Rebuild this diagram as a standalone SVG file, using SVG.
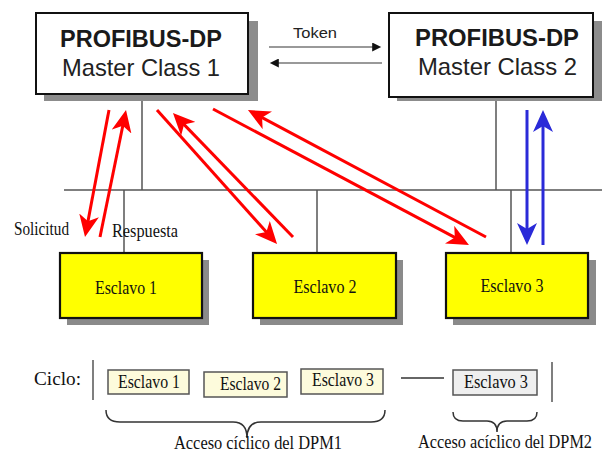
<svg xmlns="http://www.w3.org/2000/svg" width="603" height="456" viewBox="0 0 603 456">
<style>
.master{fill:#fff;stroke:#111;stroke-width:2}
.mshadow{fill:#8c8c8c}
.slave{fill:#ffff00;stroke:#111;stroke-width:2.2}
.sshadow{fill:#8a8a8a}
.bold{font-family:"Liberation Sans",Arial,sans-serif;font-weight:bold;font-size:24px;fill:#1a1a1a}
.reg{font-family:"Liberation Sans",Arial,sans-serif;font-size:24px;fill:#222}
.serif{font-family:"Liberation Serif","Times New Roman",serif;font-size:18px;fill:#111}
.bus{stroke:#555;stroke-width:1.5;fill:none}
.red{stroke:#ff0000;stroke-width:3;fill:none;marker-end:url(#redHead)}
.blue{stroke:#2a2ad8;stroke-width:3;fill:none;marker-end:url(#blueHead)}
.tok{stroke:#777;stroke-width:1.5;fill:none;marker-end:url(#tokHead)}
.cyc{fill:#fdfbdc;stroke:#555;stroke-width:1.5}
.acyc{fill:#efefef;stroke:#555;stroke-width:1.5}
.brace{stroke:#333;stroke-width:1.5;fill:none}
</style>
<defs>
<marker id="redHead" viewBox="0 0 22 20" refX="8" refY="10" markerWidth="22" markerHeight="20" markerUnits="userSpaceOnUse" orient="auto">
<path d="M22,10 L0,0 L6,10 L0,20 Z" fill="#ff0000"/>
</marker>
<marker id="blueHead" viewBox="0 0 22 20" refX="8" refY="10" markerWidth="22" markerHeight="20" markerUnits="userSpaceOnUse" orient="auto">
<path d="M22,10 L0,0 L6,10 L0,20 Z" fill="#2a2ad8"/>
</marker>
<marker id="tokHead" viewBox="0 0 10 10" refX="2" refY="5" markerWidth="10" markerHeight="9" markerUnits="userSpaceOnUse" orient="auto">
<path d="M10,5 L0,0 L0,10 Z" fill="#111"/>
</marker>
</defs>
<rect width="603" height="456" fill="#fff"/>

<g id="connectors">
<path class="bus" d="M64,190 H602"/>
<path class="bus" d="M142,95 V190"/>
<path class="bus" d="M496,97 V190"/>
<path class="bus" d="M124,190 V253"/>
<path class="bus" d="M317,190 V253"/>
<path class="bus" d="M511,190 V253"/>
<path class="tok" d="M269,47 H374"/>
<path class="tok" d="M382,63 H277"/>
<text x="293" y="38" font-family="Liberation Sans, Arial, sans-serif" font-size="14" fill="#222" textLength="44" lengthAdjust="spacingAndGlyphs">Token</text>
<path class="red" d="M109,110 L87.6,223.2"/>
<path class="red" d="M100,237 L123.2,123.7"/>
<path class="red" d="M157,110 L267.7,233.6"/>
<path class="red" d="M293,237 L182.7,123.1"/>
<path class="red" d="M213,109 L456.6,238.4"/>
<path class="red" d="M486,237 L260.3,116.6"/>
<path class="blue" d="M527,110 V231"/>
<path class="blue" d="M543,245 V124"/>
<text class="serif" x="14" y="235" font-size="16" textLength="55" lengthAdjust="spacingAndGlyphs">Solicitud</text>
<text class="serif" x="112" y="237" font-size="16" textLength="66" lengthAdjust="spacingAndGlyphs">Respuesta</text>
</g>

<g id="master1">
<rect class="mshadow" x="44" y="21" width="214" height="80"/>
<rect class="master" x="36" y="13" width="212" height="81"/>
<text class="bold" x="141" y="47" text-anchor="middle" textLength="162" lengthAdjust="spacingAndGlyphs">PROFIBUS-DP</text>
<text class="reg" x="141" y="76" text-anchor="middle" textLength="158" lengthAdjust="spacingAndGlyphs">Master Class 1</text>
</g>

<g id="master2">
<rect class="mshadow" x="397" y="21" width="205" height="80"/>
<rect class="master" x="389" y="13" width="204" height="84"/>
<text class="bold" x="497" y="46" text-anchor="middle" textLength="164" lengthAdjust="spacingAndGlyphs">PROFIBUS-DP</text>
<text class="reg" x="497.5" y="75" text-anchor="middle" textLength="159" lengthAdjust="spacingAndGlyphs">Master Class 2</text>
</g>

<g id="slave1">
<rect class="sshadow" x="67" y="260" width="142" height="65"/>
<rect class="slave" x="60" y="253" width="142" height="65"/>
<text class="serif" x="126" y="294" text-anchor="middle" textLength="62" lengthAdjust="spacingAndGlyphs">Esclavo 1</text>
</g>
<g id="slave2">
<rect class="sshadow" x="260" y="260" width="143" height="65"/>
<rect class="slave" x="253" y="253" width="143" height="65"/>
<text class="serif" x="325" y="293" text-anchor="middle" textLength="63" lengthAdjust="spacingAndGlyphs">Esclavo 2</text>
</g>
<g id="slave3">
<rect class="sshadow" x="453" y="260" width="143" height="65"/>
<rect class="slave" x="446" y="253" width="142" height="65"/>
<text class="serif" x="512" y="292" text-anchor="middle" textLength="63" lengthAdjust="spacingAndGlyphs">Esclavo 3</text>
</g>

<g id="cycle">
<text class="serif" x="34" y="385" font-size="17" textLength="47" lengthAdjust="spacingAndGlyphs">Ciclo:</text>
<path class="bus" d="M93,360 V400" stroke-width="2"/>
<path class="bus" d="M552,362 V402" stroke-width="2"/>
<path d="M401,378 H444" stroke="#333" stroke-width="1.5"/>
<g id="c1"><rect class="cyc" x="108" y="370" width="81" height="24"/>
<text class="serif" x="149" y="388" text-anchor="middle" textLength="62" lengthAdjust="spacingAndGlyphs">Esclavo 1</text></g>
<g id="c2"><rect class="cyc" x="204" y="372" width="83" height="25"/>
<text class="serif" x="250.5" y="390" text-anchor="middle" textLength="61" lengthAdjust="spacingAndGlyphs">Esclavo 2</text></g>
<g id="c3"><rect class="cyc" x="301" y="369" width="82" height="25"/>
<text class="serif" x="343" y="386" text-anchor="middle" textLength="62" lengthAdjust="spacingAndGlyphs">Esclavo 3</text></g>
<g id="a3"><rect class="acyc" x="453" y="370" width="84" height="25"/>
<text class="serif" x="496" y="388" text-anchor="middle" textLength="64" lengthAdjust="spacingAndGlyphs">Esclavo 3</text></g>
<path class="brace" d="M106,410 Q106,422 120,422 L233,422 Q247,422 247,438 Q247,422 261,422 L371,422 Q385,422 385,410"/>
<path class="brace" d="M453,412 Q453,421 463,421 L487,421 Q497,421 497,432 Q497,421 507,421 L527,421 Q537,421 537,412"/>
<text class="serif" x="174" y="449" font-size="17" textLength="168" lengthAdjust="spacingAndGlyphs">Acceso cíclico del DPM1</text>
<text class="serif" x="418" y="448" font-size="14.5" textLength="174" lengthAdjust="spacingAndGlyphs">Acceso acíclico del DPM2</text>
</g>
</svg>
